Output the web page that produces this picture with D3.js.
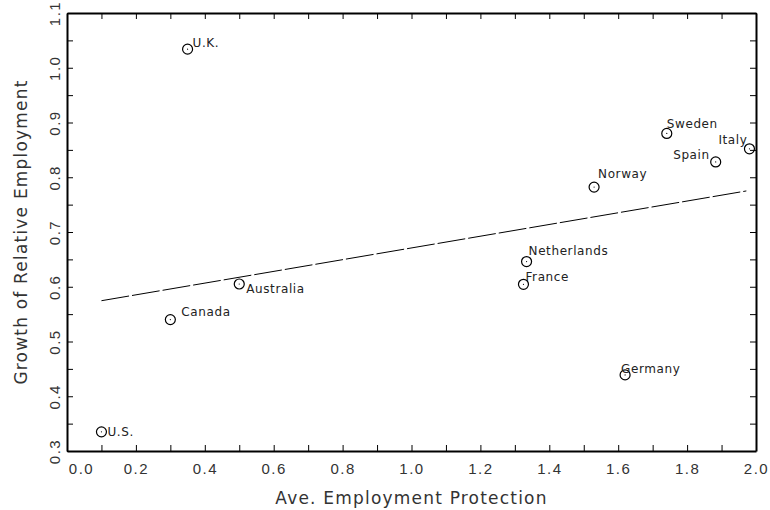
<!DOCTYPE html>
<html>
<head>
<meta charset="utf-8">
<script src="https://cdn.jsdelivr.net/npm/d3@7"></script>
<style>
  body { margin: 0; background: #fff; }
  svg { font-family: "DejaVu Sans", sans-serif; }
  .tick-label { font-size: 15px; letter-spacing: 1.5px; fill: #333; }
  .axis-title { font-size: 17px; letter-spacing: 1.2px; fill: #333; }
  .point-label { font-size: 12px; letter-spacing: 0.6px; fill: #222; }
</style>
</head>
<body>
<div id="chart"></div>
<script>
const countries = ["U.S.", "Canada", "Australia", "U.K.", "Netherlands", "France", "Norway", "Sweden", "Spain", "Italy", "Germany"];
const protection = [0.10, 0.30, 0.50, 0.35, 1.334, 1.325, 1.53, 1.741, 1.883, 1.981, 1.62];
const growth = [0.335, 0.540, 0.605, 1.034, 0.646, 0.6045, 0.782, 0.880, 0.828, 0.852, 0.439];
const fitX = [0.10, 1.972];
const fitY = [0.5745, 0.775];
const xTicks = [0.0, 0.2, 0.4, 0.6, 0.8, 1.0, 1.2, 1.4, 1.6, 1.8, 2.0];
const yTicks = [0.3, 0.4, 0.5, 0.6, 0.7, 0.8, 0.9, 1.0, 1.1];

// label placement: [dx, dy, anchor]
const labelPlacement = {
  "U.S.": [6, 4, "start"],
  "Canada": [11, -4, "start"],
  "Australia": [7, 9, "start"],
  "U.K.": [5, -2, "start"],
  "Netherlands": [2, -7, "start"],
  "France": [2, -3, "start"],
  "Norway": [4, -9, "start"],
  "Sweden": [0, -5, "start"],
  "Spain": [-6, -3, "end"],
  "Italy": [-2, -5, "end"],
  "Germany": [-4, -2, "start"],
};

const width = 770;
const height = 510;
const margin = { top: 13, right: 14, bottom: 59, left: 67 };

const x = d3.scaleLinear().domain([0, 2]).range([margin.left, width - margin.right]);
const y = d3.scaleLinear().domain([0.3, 1.1]).range([height - margin.bottom, margin.top]);

const points = countries.map((name, i) => ({ name, x: protection[i], y: growth[i] }));

const svg = d3.select("#chart").append("svg").attr("width", width).attr("height", height);

const xMinor = d3.range(0, 21).map((d) => d / 10);
const yMinor = d3.range(0, 17).map((d) => 0.3 + d * 0.05);
const fmt = d3.format(".1f");

function styleAxis(g) {
  g.select(".domain").attr("stroke", "#000").attr("stroke-width", 2);
  g.selectAll(".tick line").attr("stroke", "#000").attr("stroke-width", 1);
}

// bottom
const xAxisG = svg.append("g")
  .attr("transform", `translate(0,${height - margin.bottom})`)
  .call(d3.axisBottom(x).tickValues(xMinor).tickSize(-6).tickSizeOuter(0).tickPadding(12)
    .tickFormat((d) => xTicks.some((t) => Math.abs(t - d) < 1e-6) ? fmt(d) : ""))
  .call(styleAxis);
xAxisG.selectAll(".tick text").attr("class", "tick-label").attr("fill", null).attr("font-size", null).attr("font-family", null);
xAxisG.selectAll(".tick text").filter((d) => d === 0).attr("dx", 14);

// top
svg.append("g")
  .attr("transform", `translate(0,${margin.top})`)
  .call(d3.axisTop(x).tickValues(xMinor).tickSize(-6).tickSizeOuter(0).tickFormat(""))
  .call(styleAxis);

// left
const yAxisG = svg.append("g")
  .attr("transform", `translate(${margin.left},0)`)
  .call(d3.axisLeft(y).tickValues(yMinor).tickSize(-6).tickSizeOuter(0)
    .tickFormat((d) => yTicks.some((t) => Math.abs(t - d) < 1e-6) ? fmt(d) : ""))
  .call(styleAxis);
yAxisG.selectAll(".tick text")
  .attr("class", "tick-label")
  .attr("fill", null).attr("font-size", null).attr("font-family", null)
  .attr("text-anchor", "middle")
  .attr("x", 0)
  .attr("y", -7)
  .attr("dy", 0)
  .attr("transform", "rotate(-90)");

// right
svg.append("g")
  .attr("transform", `translate(${width - margin.right},0)`)
  .call(d3.axisRight(y).tickValues(yMinor).tickSize(-6).tickSizeOuter(0).tickFormat(""))
  .call(styleAxis);

// axis titles
svg.append("text")
  .attr("class", "axis-title")
  .attr("text-anchor", "middle")
  .attr("x", (margin.left + width - margin.right) / 2)
  .attr("y", 504)
  .text("Ave. Employment Protection");

svg.append("text")
  .attr("class", "axis-title")
  .attr("text-anchor", "middle")
  .attr("transform", `translate(27,${(margin.top + height - margin.bottom) / 2}) rotate(-90)`)
  .text("Growth of Relative Employment");

// fitted line
const fit = fitX.map((d, i) => ({ x: d, y: fitY[i] }));
svg.append("path")
  .datum(fit)
  .attr("fill", "none")
  .attr("stroke", "#000")
  .attr("stroke-width", 1)
  .attr("stroke-dasharray", "28,3")
  .attr("d", d3.line().x((d) => x(d.x)).y((d) => y(d.y)));

// points
const pg = svg.append("g").selectAll("g").data(points).join("g")
  .attr("transform", (d) => `translate(${x(d.x)},${y(d.y)})`);

pg.append("circle")
  .attr("r", 5)
  .attr("fill", "none")
  .attr("stroke", "#000")
  .attr("stroke-width", 1.2);

pg.append("circle")
  .attr("r", 0.6)
  .attr("fill", "#000");

pg.append("text")
  .attr("class", "point-label")
  .attr("x", (d) => labelPlacement[d.name][0])
  .attr("y", (d) => labelPlacement[d.name][1])
  .attr("text-anchor", (d) => labelPlacement[d.name][2])
  .text((d) => d.name);
</script>
</body>
</html>
